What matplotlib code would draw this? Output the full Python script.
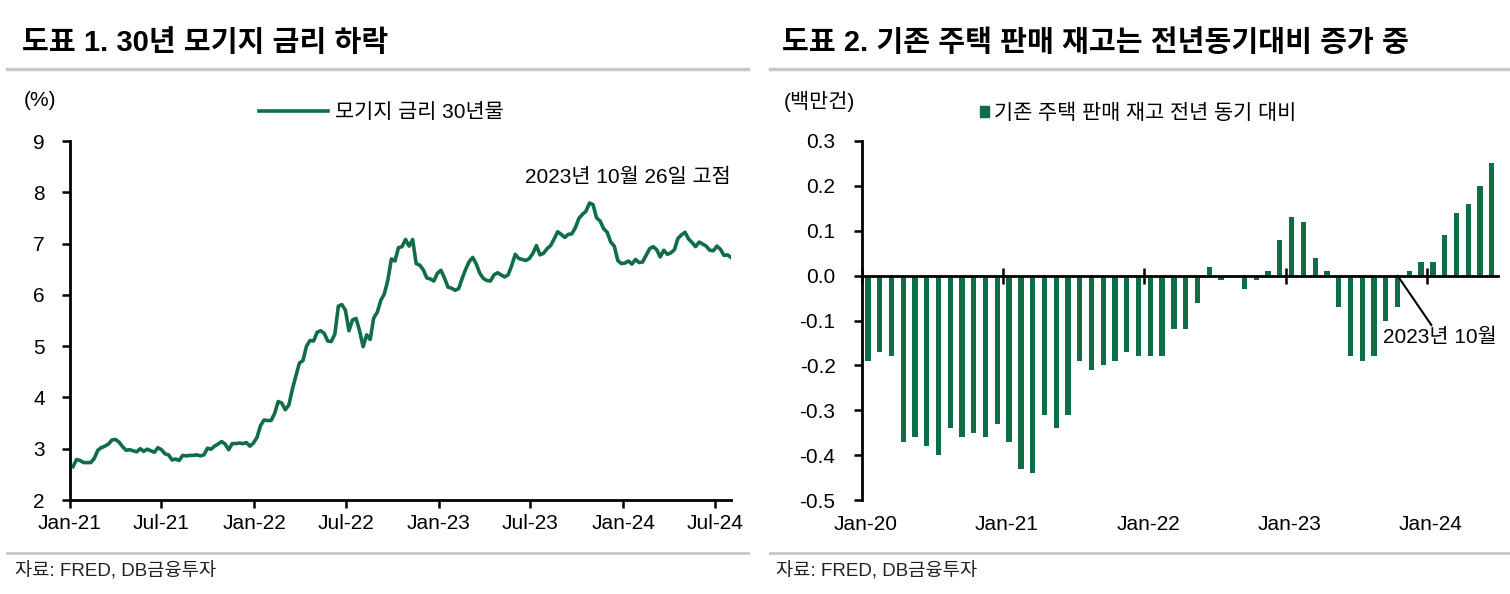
import numpy as np
import pandas as pd
import matplotlib.pyplot as plt
from matplotlib.lines import Line2D
from matplotlib.patches import Patch

plt.rcParams['font.family'] = ['Liberation Sans', 'Noto Sans CJK KR']
plt.rcParams['axes.unicode_minus'] = True

GREEN = '#0f6e46'
GRAY = '#c8c8c8'

# 30-year mortgage rate (%), weekly from 2021-01-07
rate_2021 = [2.65, 2.79, 2.77, 2.73, 2.73, 2.73, 2.81, 2.97, 3.02, 3.05, 3.09, 3.17,
             3.18, 3.13, 3.04, 2.97, 2.98, 2.96, 2.94, 3.00, 2.95, 2.99, 2.96, 2.93,
             3.02, 2.98, 2.90, 2.88, 2.78, 2.80, 2.77, 2.87, 2.86, 2.87, 2.87, 2.88,
             2.86, 2.88, 3.01, 2.99, 3.05, 3.09, 3.14, 3.09, 2.98, 3.10, 3.10, 3.11,
             3.10, 3.12, 3.05, 3.11]
rate_2022 = [3.22, 3.45, 3.56, 3.55, 3.55, 3.69, 3.92, 3.89, 3.76, 3.85, 4.16, 4.42,
             4.67, 4.72, 5.00, 5.11, 5.10, 5.27, 5.30, 5.25, 5.10, 5.09, 5.23, 5.78,
             5.81, 5.70, 5.30, 5.51, 5.54, 5.30, 4.99, 5.22, 5.13, 5.55, 5.66, 5.89,
             6.02, 6.29, 6.70, 6.66, 6.92, 6.94, 7.08, 6.95, 7.08, 6.61, 6.58, 6.49,
             6.33, 6.31, 6.27, 6.42]
rate_2023 = [6.48, 6.33, 6.15, 6.13, 6.09, 6.12, 6.32, 6.50, 6.65, 6.73, 6.60, 6.42,
             6.32, 6.28, 6.27, 6.39, 6.43, 6.39, 6.35, 6.39, 6.57, 6.79, 6.71, 6.69,
             6.67, 6.71, 6.81, 6.96, 6.78, 6.81, 6.90, 6.96, 7.09, 7.23, 7.18, 7.12,
             7.18, 7.19, 7.31, 7.49, 7.57, 7.63, 7.79, 7.76, 7.50, 7.44, 7.29, 7.22,
             7.03, 6.95, 6.67, 6.61]
rate_2024 = [6.62, 6.66, 6.60, 6.69, 6.63, 6.64, 6.77, 6.90, 6.94, 6.88, 6.74, 6.87,
             6.79, 6.82, 6.88, 7.10, 7.17, 7.22, 7.09, 7.02, 6.94, 7.03, 6.99, 6.95,
             6.87, 6.86, 6.95, 6.89, 6.77, 6.78, 6.73]
mortgage = rate_2021 + rate_2022 + rate_2023 + rate_2024
weeks = pd.date_range('2021-01-07', periods=len(mortgage), freq='7D')

left_ticks = pd.date_range('2021-01-01', '2024-07-01', freq='6MS')
left_tick_labels = ['Jan-21', 'Jul-21', 'Jan-22', 'Jul-22', 'Jan-23', 'Jul-23', 'Jan-24', 'Jul-24']

# existing home inventory, YoY change (million units), monthly from Jan-20
inv_2020 = [-0.19, -0.17, -0.18, -0.37, -0.36, -0.38, -0.40, -0.34, -0.36, -0.35, -0.36, -0.33]
inv_2021 = [-0.37, -0.43, -0.44, -0.31, -0.34, -0.31, -0.19, -0.21, -0.20, -0.19, -0.17, -0.18]
inv_2022 = [-0.18, -0.18, -0.12, -0.12, -0.06, 0.02, -0.01, 0.00, -0.03, -0.01, 0.01, 0.08]
inv_2023 = [0.13, 0.12, 0.04, 0.01, -0.07, -0.18, -0.19, -0.18, -0.10, -0.07, 0.01, 0.03]
inv_2024 = [0.03, 0.09, 0.14, 0.16, 0.20, 0.25]
inventory = inv_2020 + inv_2021 + inv_2022 + inv_2023 + inv_2024
right_tick_labels = ['Jan-20', 'Jan-21', 'Jan-22', 'Jan-23', 'Jan-24']
right_yticks = [-0.5, -0.4, -0.3, -0.2, -0.1, 0.0, 0.1, 0.2, 0.3]

W, H = 1510, 594
def fx(px):
    return px / W
def fy(py):
    return 1 - py / H

fig = plt.figure(figsize=(15.1, 5.94), dpi=100)

# titles, rules, sources
fig.text(fx(22), fy(43), '도표 1. 30년 모기지 금리 하락', fontsize=21, fontweight='bold', va='center')
fig.text(fx(782), fy(43), '도표 2. 기존 주택 판매 재고는 전년동기대비 증가 중', fontsize=21, fontweight='bold', va='center')
for x0, x1 in [(7, 748), (770, 1510)]:
    fig.add_artist(Line2D([fx(x0), fx(x1)], [fy(69), fy(69)], color=GRAY, lw=2.5))
    fig.add_artist(Line2D([fx(x0), fx(x1)], [fy(553), fy(553)], color=GRAY, lw=2))
fig.text(fx(15), fy(571), '자료: FRED, DB금융투자', fontsize=13.5, va='center', color='#222222')
fig.text(fx(776), fy(571), '자료: FRED, DB금융투자', fontsize=13.5, va='center', color='#222222')
fig.text(fx(24), fy(100), '(%)', fontsize=15, va='center')
fig.text(fx(784), fy(101), '(백만건)', fontsize=15, va='center')

# left: mortgage rate
ax1 = fig.add_axes([fx(70), fy(500), (731 - 70) / W, (500 - 141) / H])
ax1.plot(weeks, mortgage, color=GREEN, lw=2.6, label='모기지 금리 30년물')
ax1.set_xlim(pd.Timestamp('2021-01-01'), weeks[-1])
ax1.set_ylim(2, 9)
ax1.set_yticks(range(2, 10))
ax1.set_xticks(left_ticks)
ax1.set_xticklabels(left_tick_labels)
for s in ['top', 'right']:
    ax1.spines[s].set_visible(False)
for s in ['left', 'bottom']:
    ax1.spines[s].set_linewidth(2)
ax1.tick_params(axis='both', direction='out', length=6, width=1.8, labelsize=15)
ax1.tick_params(axis='y', pad=12)
ax1.tick_params(axis='x', pad=4)
ax1.text(weeks[-1], 8.28, '2023년 10월 26일 고점', ha='right', va='center', fontsize=15)
ax1.legend(loc='center left', bbox_to_anchor=(fx(259), fy(113)), bbox_transform=fig.transFigure,
           frameon=False, fontsize=15, handlelength=3.3, handletextpad=0.35,
           borderpad=0, borderaxespad=0)

# right: inventory YoY bars
ax2 = fig.add_axes([fx(862), fy(500), (1497.6 - 862) / W, (500 - 141) / H])
idx = np.arange(len(inventory))
ax2.bar(idx, inventory, width=0.45, color=GREEN)
ax2.set_xlim(-0.5, len(inventory) - 0.5)
ax2.set_ylim(-0.5, 0.3)
ax2.set_yticks(right_yticks)
ax2.set_yticklabels([f'{v:.1f}' for v in right_yticks])
year_edges = np.arange(-0.5, len(inventory), 12)
ax2.set_xticks(year_edges)
ax2.tick_params(axis='x', direction='inout', length=12, width=1.8, labelbottom=False)
ax2.spines['bottom'].set_position(('data', 0))
for s in ['top', 'right']:
    ax2.spines[s].set_visible(False)
for s in ['left', 'bottom']:
    ax2.spines[s].set_linewidth(2)
ax2.tick_params(axis='y', direction='out', length=6, width=1.8, labelsize=15, pad=13)

# year labels sit under the plot, not on the zero line
sec = ax2.secondary_xaxis('bottom')
sec.set_xticks(year_edges + 0.3)
sec.set_xticklabels(right_tick_labels)
sec.tick_params(length=0, labelsize=15, pad=11)
sec.spines['bottom'].set_visible(False)

ax2.annotate('2023년 10월', xy=(45, 0), xytext=(48.6, -0.138), ha='center', va='center', fontsize=15,
             arrowprops=dict(arrowstyle='-', color='black', lw=1.5, shrinkA=0, shrinkB=0))
ax2.legend(handles=[Patch(color=GREEN, label='기존 주택 판매 재고 전년 동기 대비')],
           loc='center left', bbox_to_anchor=(fx(980), fy(113)), bbox_transform=fig.transFigure,
           frameon=False, fontsize=15, handlelength=0.45, handleheight=0.45, handletextpad=0.2,
           borderpad=0, borderaxespad=0)

plt.savefig('out.png', dpi=100)
